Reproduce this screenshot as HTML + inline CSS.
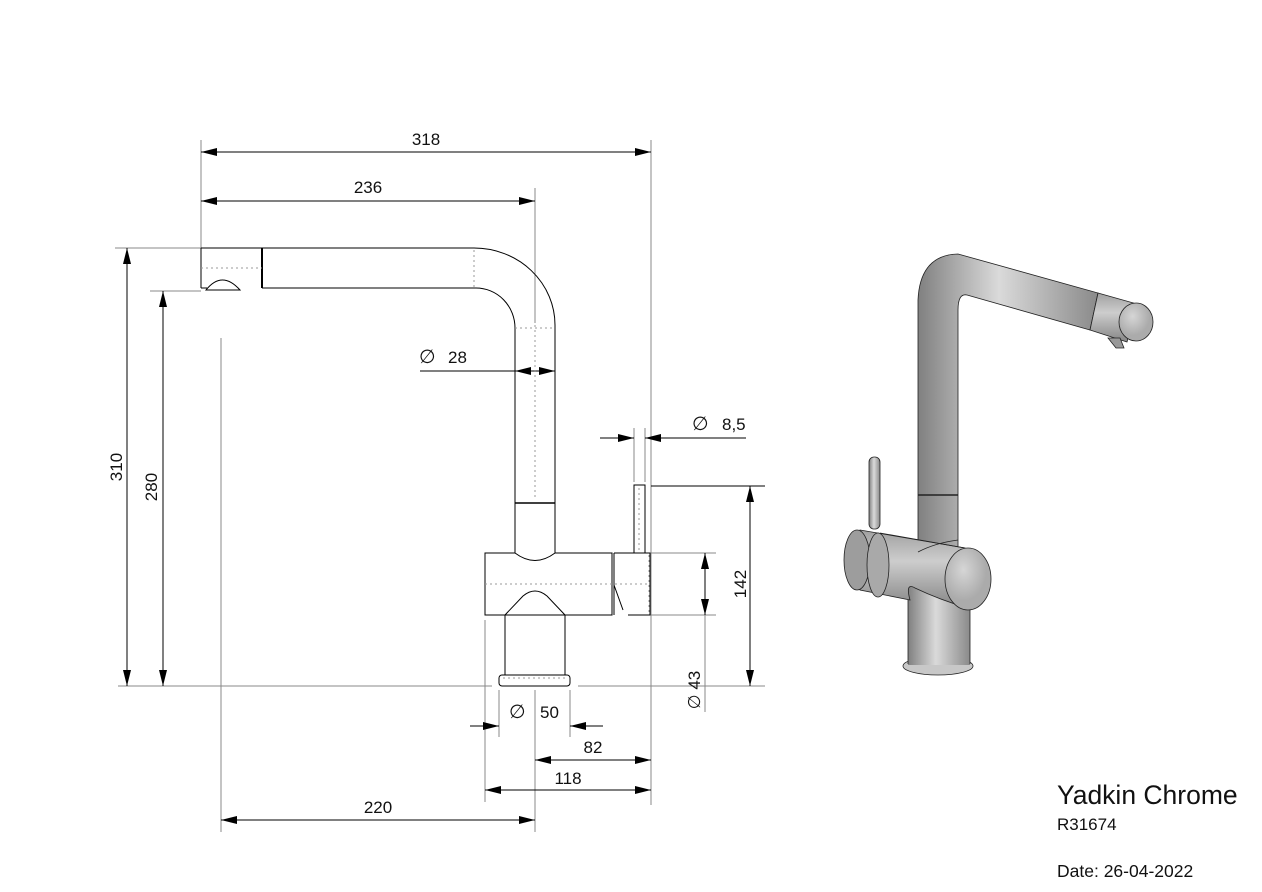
<!DOCTYPE html>
<html><head><meta charset="utf-8"><style>
html,body{margin:0;padding:0;background:#fff;width:1262px;height:892px;overflow:hidden}
svg{display:block}
text{font-family:"Liberation Sans",sans-serif;fill:#111}
</style></head><body>
<svg width="1262" height="892" viewBox="0 0 1262 892" xmlns="http://www.w3.org/2000/svg">
<defs>
<marker id="a" viewBox="0 0 16 8" refX="16" refY="4" markerWidth="16" markerHeight="8" markerUnits="userSpaceOnUse" orient="auto-start-reverse"><path d="M0,0L16,4L0,8z" fill="#000"/></marker>
<linearGradient id="gv" x1="0" x2="1"><stop offset="0" stop-color="#808080"/><stop offset=".45" stop-color="#dadada"/><stop offset="1" stop-color="#8a8a8a"/></linearGradient>
<linearGradient id="gh" x1="0" y1="0" x2="0" y2="1"><stop offset="0" stop-color="#a0a0a0"/><stop offset=".4" stop-color="#cdcdcd"/><stop offset="1" stop-color="#858585"/></linearGradient>
<radialGradient id="gd" cx=".4" cy=".35"><stop offset="0" stop-color="#d6d6d6"/><stop offset="1" stop-color="#ababab"/></radialGradient>
</defs>
<g stroke="#888" stroke-width="1" fill="none">
<line x1="201" y1="140" x2="201" y2="248"/>
<line x1="651" y1="140" x2="651" y2="805"/>
<line x1="535" y1="188" x2="535" y2="323"/>
<line x1="115" y1="248" x2="201" y2="248"/>
<line x1="150" y1="291" x2="201" y2="291"/>
<line x1="221" y1="338" x2="221" y2="832"/>
<line x1="118" y1="686" x2="492" y2="686"/>
<line x1="578" y1="686" x2="765" y2="686"/>
<line x1="651" y1="553" x2="716" y2="553"/>
<line x1="651" y1="615" x2="716" y2="615"/>
<line x1="705" y1="615" x2="705" y2="712"/>
<line x1="499" y1="690" x2="499" y2="737"/>
<line x1="570" y1="690" x2="570" y2="737"/>
<line x1="485" y1="620" x2="485" y2="802"/>
<line x1="535" y1="690" x2="535" y2="832"/>
<line x1="634" y1="428" x2="634" y2="482"/>
<line x1="645" y1="428" x2="645" y2="482"/>
</g>
<g stroke="#000" stroke-width="1" fill="none">
<line x1="201" y1="152" x2="651" y2="152" marker-start="url(#a)" marker-end="url(#a)"/>
<line x1="201" y1="201" x2="535" y2="201" marker-start="url(#a)" marker-end="url(#a)"/>
<line x1="127" y1="248" x2="127" y2="686" marker-start="url(#a)" marker-end="url(#a)"/>
<line x1="163" y1="291" x2="163" y2="686" marker-start="url(#a)" marker-end="url(#a)"/>
<line x1="420" y1="371" x2="515" y2="371"/>
<line x1="535" y1="371" x2="515" y2="371" marker-end="url(#a)"/>
<line x1="535" y1="371" x2="555" y2="371" marker-end="url(#a)"/>
<line x1="600" y1="438" x2="634" y2="438" marker-end="url(#a)"/>
<line x1="746" y1="438" x2="645" y2="438" marker-end="url(#a)"/>
<line x1="651" y1="486" x2="765" y2="486"/>
<line x1="750" y1="486" x2="750" y2="686" marker-start="url(#a)" marker-end="url(#a)"/>
<line x1="705" y1="553" x2="705" y2="615" marker-start="url(#a)" marker-end="url(#a)"/>
<line x1="470" y1="726" x2="499" y2="726" marker-end="url(#a)"/>
<line x1="603" y1="726" x2="570" y2="726" marker-end="url(#a)"/>
<line x1="535" y1="760" x2="651" y2="760" marker-start="url(#a)" marker-end="url(#a)"/>
<line x1="485" y1="790" x2="651" y2="790" marker-start="url(#a)" marker-end="url(#a)"/>
<line x1="221" y1="820" x2="535" y2="820" marker-start="url(#a)" marker-end="url(#a)"/>
<path d="M201,248 H474 A81,77 0 0 1 555,325 V553"/>
<path d="M262,288 H476 A39,40 0 0 1 515,328 V553"/>
<line x1="201" y1="248" x2="201" y2="288"/>
<line x1="201" y1="288" x2="207" y2="288"/>
<line x1="262" y1="248" x2="262" y2="288" stroke-width="2"/>
<path d="M206,290 Q222,270 240,290 Z" stroke="#000" fill="#fff"/>
<line x1="515" y1="503" x2="555" y2="503" stroke-width="1.5"/>
<path d="M485,553 H515 Q535,568 555,553 H612 V615 H485 Z"/>
<path d="M505,615 L523,596 Q535,586 547,596 L565,615"/>
<line x1="505" y1="615" x2="505" y2="675"/>
<line x1="565" y1="615" x2="565" y2="675"/>
<rect x="499" y="675" width="71" height="11" rx="3"/>
<path d="M614,553 H650 V615 H628 M614,553 V615 M614,585 L623,610"/>
<rect x="634" y="485" width="11" height="68"/>
</g>
<g stroke="#999" stroke-width="1" stroke-dasharray="2,3" fill="none">
<line x1="535" y1="325" x2="535" y2="500"/>
<line x1="515" y1="328" x2="555" y2="328"/>
<line x1="201" y1="268" x2="262" y2="268"/>
<line x1="474" y1="250" x2="474" y2="288"/>
<line x1="485" y1="584" x2="650" y2="584"/>
<line x1="639" y1="488" x2="639" y2="552"/>
<line x1="649" y1="555" x2="649" y2="614"/>
<line x1="503" y1="678" x2="566" y2="678"/>
</g>
<g font-size="17">
<text x="426" y="145" text-anchor="middle">318</text>
<text x="368" y="193" text-anchor="middle">236</text>
<text x="419" y="363" font-size="19">∅</text><text x="448" y="363">28</text>
<text x="692" y="430" font-size="19">∅</text><text x="722" y="430">8,5</text>
<text x="509" y="718" font-size="19">∅</text><text x="540" y="718">50</text>
<text x="593" y="753" text-anchor="middle">82</text>
<text x="568" y="784" text-anchor="middle">118</text>
<text x="378" y="813" text-anchor="middle">220</text>
<text transform="translate(122,467) rotate(-90)" text-anchor="middle">310</text>
<text transform="translate(157,487) rotate(-90)" text-anchor="middle">280</text>
<text transform="translate(746,584) rotate(-90)" text-anchor="middle">142</text>
<text transform="translate(700,690) rotate(-90)" text-anchor="middle">∅  43</text>
</g>
<text x="1057" y="804" font-size="26.5">Yadkin Chrome</text>
<text x="1057" y="830" font-size="17">R31674</text>
<text x="1057" y="877" font-size="17.5">Date: 26-04-2022</text>
<g stroke="#222" stroke-width="0.8">
<ellipse cx="938" cy="666" rx="35" ry="9" fill="#c8c8c8"/>
<rect x="908" y="585" width="62" height="80" fill="url(#gv)" stroke="none"/>
<line x1="908" y1="590" x2="908" y2="664"/><line x1="970" y1="590" x2="970" y2="664"/>
<path d="M918,300 Q920,255 958,254 L1098,293 L1090,330 L967,295 Q958,293 958,310 V555 H918 Z" fill="url(#gv)"/>
<path d="M1098,293 L1137,304 L1127,342 L1090,330 Z" fill="url(#gh)"/>
<line x1="918" y1="495" x2="958" y2="495" stroke-width="1.5"/>
<rect x="869" y="457" width="11" height="72" rx="5" fill="url(#gv)"/>
<path d="M860,530 L965,548 L968,608 Q940,600 915,588 Q905,582 910,600 L860,590 Z" fill="url(#gh)"/>
<path d="M918,552 Q935,543 958,540" fill="none"/>
<ellipse cx="857" cy="560" rx="13" ry="30" fill="#9d9d9d"/>
<path d="M880,533 L965,548" fill="none"/>
<ellipse cx="878" cy="565" rx="11" ry="32" fill="#a9a9a9"/>
<ellipse cx="968" cy="579" rx="23" ry="31" fill="url(#gd)"/>
<ellipse cx="1136" cy="322" rx="17" ry="19" fill="url(#gd)"/>
<path d="M1108,338 L1116,348 H1124 L1120,338 Z" fill="#999"/>
</g>
</svg>
</body></html>
